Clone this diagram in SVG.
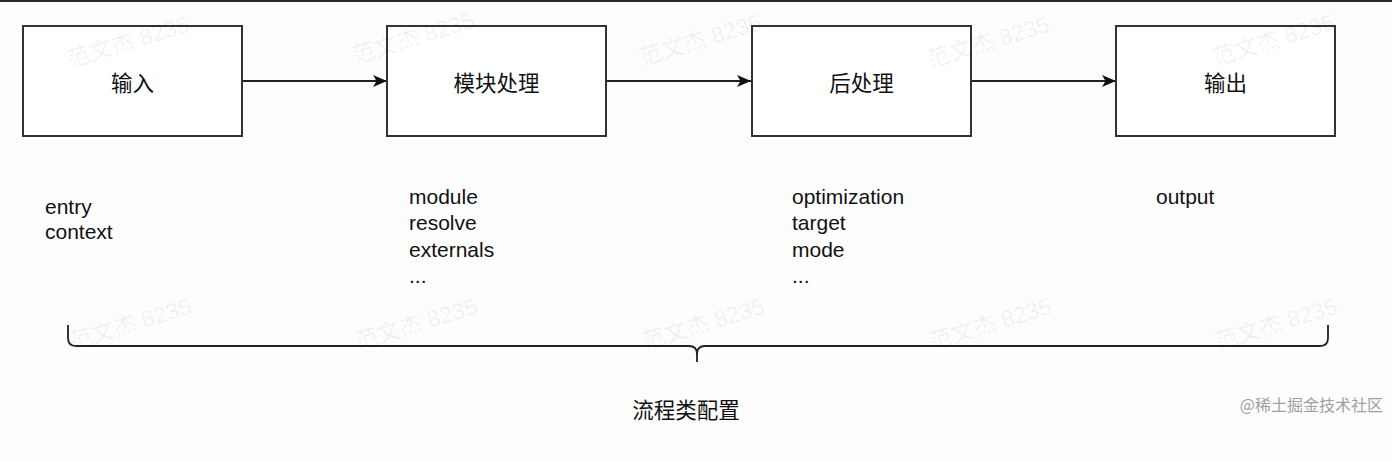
<svg xmlns="http://www.w3.org/2000/svg" width="1392" height="462" viewBox="0 0 1392 462">
<style>
.box{fill:#ffffff;stroke:#333333;stroke-width:2}
.lbl{font-family:"Liberation Sans","Noto Sans CJK SC",sans-serif;font-size:21px;fill:#111111}
.cn{font-family:"Noto Sans CJK SC","Liberation Sans",sans-serif;font-size:21.5px;fill:#111111}
.wm{font-family:"Liberation Sans","Noto Sans CJK SC",sans-serif;font-size:23px;fill:#000000;fill-opacity:0.06}
.conn{fill:none;stroke:#222222;stroke-width:1.8}
.brace{fill:none;stroke:#222222;stroke-width:1.8}
</style>
<defs>
<marker id="arr" viewBox="0 0 14 12" refX="14" refY="6" markerWidth="14" markerHeight="12" markerUnits="userSpaceOnUse" orient="auto">
<path d="M0,0 L14,6 L0,12 L3.5,6 Z" fill="#111111"/>
</marker>
</defs>
<rect x="0" y="0" width="1392" height="462" fill="#fdfdfd"/>
<rect x="0" y="0" width="1392" height="2" fill="#2a2a2a"/>
<g id="connectors">
<line class="conn" x1="243" y1="81" x2="387" y2="81" marker-end="url(#arr)"/>
<line class="conn" x1="607" y1="81" x2="751" y2="81" marker-end="url(#arr)"/>
<line class="conn" x1="971" y1="81" x2="1116" y2="81" marker-end="url(#arr)"/>
</g>
<g id="node-input">
<rect class="box" x="23" y="26" width="219" height="110"/>
<text class="cn" x="132.5" y="81" text-anchor="middle" dominant-baseline="central">输入</text>
</g>
<g id="node-module">
<rect class="box" x="387" y="26" width="219" height="110"/>
<text class="cn" x="496.5" y="81" text-anchor="middle" dominant-baseline="central">模块处理</text>
</g>
<g id="node-post">
<rect class="box" x="752" y="26" width="219" height="110"/>
<text class="cn" x="861.5" y="81" text-anchor="middle" dominant-baseline="central">后处理</text>
</g>
<g id="node-output">
<rect class="box" x="1116" y="26" width="219" height="110"/>
<text class="cn" x="1225.5" y="81" text-anchor="middle" dominant-baseline="central">输出</text>
</g>
<g id="label-input">
<text class="lbl" x="45" y="214">entry</text>
<text class="lbl" x="45" y="239">context</text>
</g>
<g id="label-module">
<text class="lbl" x="409" y="204">module</text>
<text class="lbl" x="409" y="230">resolve</text>
<text class="lbl" x="409" y="257">externals</text>
<text class="lbl" x="409" y="283">...</text>
</g>
<g id="label-post">
<text class="lbl" x="792" y="204">optimization</text>
<text class="lbl" x="792" y="230">target</text>
<text class="lbl" x="792" y="257">mode</text>
<text class="lbl" x="792" y="283">...</text>
</g>
<g id="label-output">
<text class="lbl" x="1156" y="204">output</text>
</g>
<g id="brace">
<path class="brace" d="M68,325 V338 Q68,346 76,346 H689 Q697,346 697,354 V362"/>
<path class="brace" d="M1328,325 V338 Q1328,346 1320,346 H705 Q697,346 697,354"/>
</g>
<g id="label-flow">
<text class="cn" x="686" y="408" text-anchor="middle" dominant-baseline="central">流程类配置</text>
</g>
<text x="1383" y="404" text-anchor="end" dominant-baseline="central" font-family="Noto Sans CJK SC, Liberation Sans, sans-serif" font-size="16" fill="#a0a0a0">@稀土掘金技术社区</text>
<g id="watermarks">
<text class="wm" transform="translate(70,68) rotate(-17)">范文杰 8235</text>
<text class="wm" transform="translate(355,64) rotate(-17)">范文杰 8235</text>
<text class="wm" transform="translate(642,66) rotate(-17)">范文杰 8235</text>
<text class="wm" transform="translate(930,68) rotate(-17)">范文杰 8235</text>
<text class="wm" transform="translate(1215,66) rotate(-17)">范文杰 8235</text>
<text class="wm" transform="translate(72,350) rotate(-17)">范文杰 8235</text>
<text class="wm" transform="translate(358,350) rotate(-17)">范文杰 8235</text>
<text class="wm" transform="translate(645,350) rotate(-17)">范文杰 8235</text>
<text class="wm" transform="translate(932,350) rotate(-17)">范文杰 8235</text>
<text class="wm" transform="translate(1218,350) rotate(-17)">范文杰 8235</text>
</g>
</svg>
